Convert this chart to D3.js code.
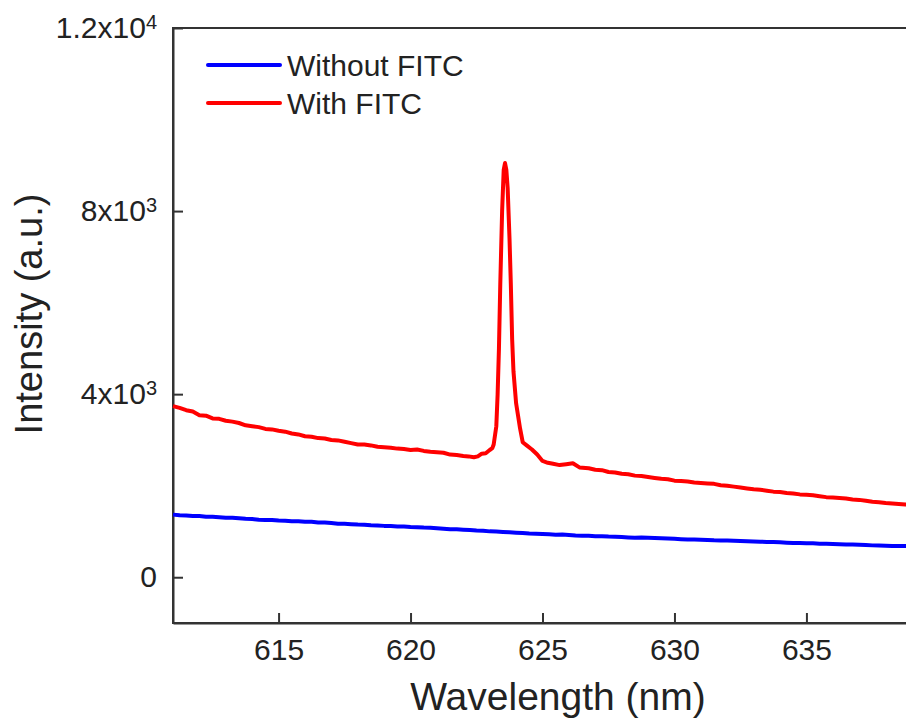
<!DOCTYPE html>
<html>
<head>
<meta charset="utf-8">
<script src="https://cdn.jsdelivr.net/npm/d3@7"></script>
<style>
  body { margin: 0; background: #fff; }
  text { font-family: "Liberation Sans", Arial, sans-serif; fill: #222; }
</style>
</head>
<body>
<div id="spectrum"></div>
<script>
// wavelengths (nm) and intensities
var wlWithout = [611.00, 611.25, 611.50, 611.75, 612.00, 612.25, 612.50, 612.75, 613.00, 613.25,
  613.50, 613.75, 614.00, 614.25, 614.50, 614.75, 615.00, 615.25, 615.50, 615.75,
  616.00, 616.25, 616.50, 616.75, 617.00, 617.25, 617.50, 617.75, 618.00, 618.25,
  618.50, 618.75, 619.00, 619.25, 619.50, 619.75, 620.00, 620.25, 620.50, 620.75,
  621.00, 621.25, 621.50, 621.75, 622.00, 622.25, 622.50, 622.75, 623.00, 623.25,
  623.50, 623.75, 624.00, 624.25, 624.50, 624.75, 625.00, 625.25, 625.50, 625.75,
  626.00, 626.25, 626.50, 626.75, 627.00, 627.25, 627.50, 627.75, 628.00, 628.25,
  628.50, 628.75, 629.00, 629.25, 629.50, 629.75, 630.00, 630.25, 630.50, 630.75,
  631.00, 631.25, 631.50, 631.75, 632.00, 632.25, 632.50, 632.75, 633.00, 633.25,
  633.50, 633.75, 634.00, 634.25, 634.50, 634.75, 635.00, 635.25, 635.50, 635.75,
  636.00, 636.25, 636.50, 636.75, 637.00, 637.25, 637.50, 637.75, 638.00, 638.25,
  638.50, 638.75, 639.00];
var withoutFITC = [1368, 1352, 1350, 1336, 1338, 1322, 1320, 1312, 1300, 1302,
  1288, 1276, 1270, 1258, 1252, 1250, 1238, 1236, 1224, 1222,
  1212, 1210, 1198, 1196, 1186, 1170, 1166, 1160, 1150, 1148,
  1138, 1132, 1122, 1118, 1110, 1108, 1098, 1094, 1084, 1080,
  1068, 1058, 1048, 1046, 1038, 1030, 1020, 1014, 1002, 998,
  990, 984, 974, 964, 956, 952, 944, 938, 930, 932,
  922, 912, 906, 904, 898, 896, 888, 884, 878, 870,
  862, 866, 860, 856, 850, 846, 840, 832, 826, 824,
  818, 812, 806, 804, 800, 798, 792, 786, 780, 776,
  770, 768, 764, 756, 750, 750, 744, 740, 734, 730,
  724, 720, 716, 714, 708, 702, 696, 694, 690, 684,
  680, 682, 676];

var wlWith = [611.00, 611.25, 611.50, 611.75, 612.00, 612.25, 612.50, 612.75, 613.00, 613.25,
  613.50, 613.75, 614.00, 614.25, 614.50, 614.75, 615.00, 615.25, 615.50, 615.75,
  616.00, 616.25, 616.50, 616.75, 617.00, 617.25, 617.50, 617.75, 618.00, 618.25,
  618.50, 618.75, 619.00, 619.25, 619.50, 619.75, 620.00, 620.25, 620.50, 620.75,
  621.00, 621.25, 621.50, 621.75, 622.00, 622.20, 622.40, 622.55, 622.70, 622.85,
  623.00, 623.10, 623.15, 623.25, 623.30, 623.35, 623.40, 623.47, 623.53, 623.58,
  623.63, 623.68, 623.75, 623.80, 623.85, 623.90, 624.00, 624.15, 624.25, 624.40,
  624.60, 624.80, 625.00, 625.20, 625.40, 625.65, 625.90, 626.15, 626.40, 626.75,
  627.00, 627.25, 627.50, 627.75, 628.00, 628.25, 628.50, 628.75, 629.00, 629.25,
  629.50, 629.75, 630.00, 630.25, 630.50, 630.75, 631.00, 631.25, 631.50, 631.75,
  632.00, 632.25, 632.50, 632.75, 633.00, 633.25, 633.50, 633.75, 634.00, 634.25,
  634.50, 634.75, 635.00, 635.25, 635.50, 635.75, 636.00, 636.25, 636.50, 636.75,
  637.00, 637.25, 637.50, 637.75, 638.00, 638.25, 638.50, 638.75, 639.00];
var withFITC = [3740, 3700, 3650, 3620, 3540, 3530, 3470, 3460, 3420, 3400,
  3370, 3320, 3300, 3280, 3240, 3230, 3200, 3180, 3140, 3120,
  3080, 3070, 3040, 3030, 3000, 2990, 2960, 2930, 2900, 2900,
  2880, 2850, 2840, 2830, 2810, 2800, 2780, 2790, 2760, 2740,
  2730, 2720, 2680, 2670, 2650, 2640, 2620, 2640, 2700, 2710,
  2780, 2820, 2900, 3300, 4000, 5000, 6400, 8000, 8900, 9050,
  8900, 8500, 7400, 6400, 5200, 4500, 3800, 3250, 2950, 2880,
  2790, 2680, 2540, 2500, 2480, 2450, 2470, 2490, 2400, 2380,
  2350, 2340, 2300, 2290, 2260, 2250, 2220, 2210, 2190, 2170,
  2150, 2140, 2110, 2100, 2090, 2070, 2060, 2050, 2040, 2010,
  2000, 1980, 1960, 1940, 1920, 1910, 1890, 1870, 1860, 1840,
  1830, 1810, 1800, 1790, 1770, 1750, 1740, 1730, 1720, 1700,
  1690, 1670, 1650, 1640, 1620, 1610, 1600, 1590, 1580];

var xTicks = [615, 620, 625, 630, 635];
var yTicks = [0, 4000, 8000, 12000];
var yTickLabels = [["0", ""], ["4x10", "3"], ["8x10", "3"], ["1.2x10", "4"]];
var seriesNames = ["Without FITC", "With FITC"];
var seriesColors = ["#0000ff", "#ff0000"];

// set dimensions margins of graph
var margin = {top: 28, right: 0, bottom: 99, left: 173},
    width = 739,
    height = 722 - margin.top - margin.bottom;

var svg = d3.select("#spectrum")
  .append("svg")
    .attr("width", 906)
    .attr("height", 722)
  .append("g")
    .attr("transform", "translate(" + margin.left + "," + margin.top + ")");

var x = d3.scaleLinear()
  .domain([611, 639])
  .range([0, width]);

var y = d3.scaleLinear()
  .domain([-1000, 12000])
  .range([height, 0]);

// frame (right edge falls outside the picture)
svg.append("rect")
  .attr("x", 0).attr("y", 0)
  .attr("width", width).attr("height", height)
  .attr("fill", "none")
  .attr("stroke", "#333")
  .attr("stroke-width", 2);

// X axis
var gx = svg.append("g")
  .attr("transform", "translate(0," + height + ")")
  .call(d3.axisBottom(x).tickValues(xTicks).tickSizeInner(-10).tickSizeOuter(0).tickPadding(16));

// Y axis
var gy = svg.append("g")
  .call(d3.axisLeft(y).tickValues(yTicks).tickSizeInner(-10).tickSizeOuter(0).tickPadding(16)
    .tickFormat(function() { return ""; }));

[gx, gy].forEach(function(g) {
  g.select(".domain").attr("stroke", "#333").attr("stroke-width", 2);
  g.selectAll(".tick line").attr("stroke", "#333").attr("stroke-width", 2);
  g.selectAll(".tick text").attr("font-size", 30).attr("fill", "#222")
    .style("font-family", "'Liberation Sans', Arial, sans-serif");
});

// y labels with superscript exponent
gy.selectAll(".tick text").each(function(d) {
  var lab = yTickLabels[yTicks.indexOf(d)];
  var t = d3.select(this);
  t.append("tspan").text(lab[0]);
  if (lab[1]) {
    t.append("tspan").attr("dy", "-0.45em").attr("font-size", 20).text(lab[1]);
  }
});

// lines
var line = d3.line()
  .x(function(d) { return x(d[0]); })
  .y(function(d) { return y(d[1]); });

var seriesData = [
  d3.zip(wlWithout, withoutFITC),
  d3.zip(wlWith, withFITC)
];

seriesData.forEach(function(data, i) {
  svg.append("path")
    .datum(data)
    .attr("fill", "none")
    .attr("stroke", seriesColors[i])
    .attr("stroke-width", 4)
    .attr("stroke-linejoin", "round")
    .attr("d", line);
});

// legend
var legend = svg.append("g")
  .attr("transform", "translate(35,37)");
seriesNames.forEach(function(name, i) {
  legend.append("line")
    .attr("x1", 0).attr("x2", 72)
    .attr("y1", i * 38).attr("y2", i * 38)
    .attr("stroke", seriesColors[i])
    .attr("stroke-width", 4)
    .attr("stroke-linecap", "round");
  legend.append("text")
    .attr("x", 79).attr("y", i * 38)
    .attr("dy", "0.36em")
    .attr("font-size", 30)
    .text(name);
});

// axis titles
svg.append("text")
  .attr("x", 558 - margin.left)
  .attr("y", 710 - margin.top)
  .attr("text-anchor", "middle")
  .attr("font-size", 39)
  .text("Wavelength (nm)");

svg.append("text")
  .attr("transform", "translate(" + (42 - margin.left) + "," + (314 - margin.top) + ") rotate(-90)")
  .attr("text-anchor", "middle")
  .attr("font-size", 38)
  .text("Intensity (a.u.)");
</script>
</body>
</html>
